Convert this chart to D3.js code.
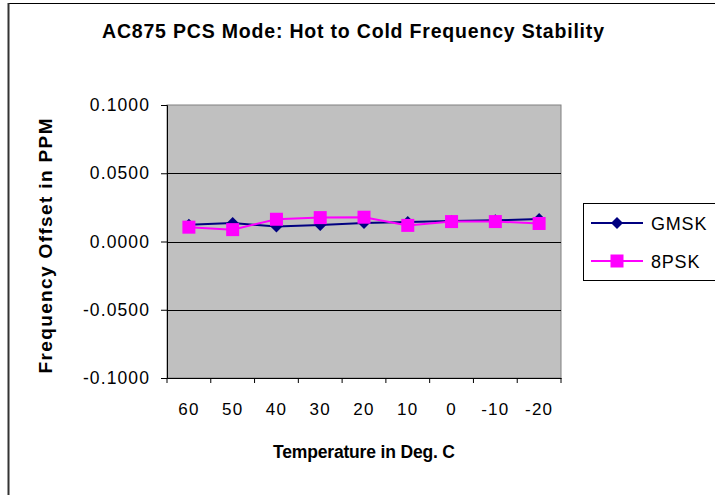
<!DOCTYPE html>
<html><head><meta charset="utf-8">
<script src="https://cdn.jsdelivr.net/npm/d3@7"></script>
<style>body{margin:0;background:#fff}svg{display:block;font-family:"Liberation Sans",Arial,sans-serif}</style>
</head><body><svg id="c" width="715" height="495"></svg>
<script>
const categories = ["60","50","40","30","20","10","0","-10","-20"];
const gmsk = [0.0123, 0.0135, 0.0110, 0.0120, 0.0135, 0.0142, 0.0150, 0.0155, 0.0165];
const psk8 = [0.0105, 0.0087, 0.0163, 0.0175, 0.0178, 0.0118, 0.0146, 0.0146, 0.0132];
const yTicks = [-0.1, -0.05, 0, 0.05, 0.1];
const seriesNames = ["GMSK", "8PSK"];

const svg = d3.select("#c");
const L = 167, R = 561, T = 105, B = 378;
const x = d3.scaleBand().domain(categories).range([L, R]);
const y = d3.scaleLinear().domain([-0.1, 0.1]).range([B, T]);
const fmt = d3.formatLocale({decimal: ".", thousands: ",", grouping: [3], currency: ["$", ""], minus: "-"}).format(".4f");

// outer border
svg.append("rect").attr("x", 8.5).attr("y", 3.5).attr("width", 720).attr("height", 520)
  .attr("fill", "#fff").attr("stroke", "#000").attr("stroke-width", 1);
svg.append("line").attr("x1", 8.5).attr("x2", 8.5).attr("y1", 3).attr("y2", 495).attr("stroke", "#333").attr("stroke-width", 2);

// plot area
svg.append("rect").attr("x", L).attr("y", T).attr("width", R - L).attr("height", B - T)
  .attr("fill", "#C0C0C0").attr("stroke", "#808080").attr("stroke-width", 1);

// gridlines
svg.append("g").selectAll("line").data(yTicks.filter(d => d > -0.1 && d < 0.1)).join("line")
  .attr("x1", L).attr("x2", R).attr("y1", d => Math.round(y(d)) + 0.5).attr("y2", d => Math.round(y(d)) + 0.5)
  .attr("stroke", "#000").attr("stroke-width", 1);

// y axis
const ya = svg.append("g").attr("transform", `translate(${L},0)`)
  .call(d3.axisLeft(y).tickValues(yTicks).tickFormat(fmt).tickSize(6).tickPadding(11));
ya.select(".domain").attr("stroke", "#000");
ya.selectAll("text").attr("font-size", 17.5).attr("fill", "#000").attr("letter-spacing", 1.1)
  .attr("font-family", "Liberation Sans, Arial, sans-serif");

// x axis
const xa = svg.append("g").attr("transform", `translate(0,${B})`)
  .call(d3.axisBottom(x).tickSize(5).tickPadding(20).tickSizeOuter(0));
xa.selectAll(".tick line").remove();
xa.select(".domain").attr("stroke", "#000");
const bandEdges = categories.map((c, i) => L + i * x.step()).concat([R]);
xa.selectAll("line.bt").data(bandEdges).join("line").attr("class", "bt")
  .attr("x1", d => d).attr("x2", d => d).attr("y1", 0).attr("y2", 5).attr("stroke", "#000");
xa.selectAll("text").attr("font-size", 17).attr("fill", "#000").attr("letter-spacing", 1.2)
  .attr("font-family", "Liberation Sans, Arial, sans-serif");

// lines & markers
const cx = c => x(c) + x.bandwidth() / 2;
const line = d3.line().x((d, i) => cx(categories[i])).y(d => y(d));
svg.append("path").datum(gmsk).attr("d", line).attr("fill", "none").attr("stroke", "#000080").attr("stroke-width", 2);
svg.append("g").selectAll("path").data(gmsk).join("path")
  .attr("d", "M0,-6L6,0L0,6L-6,0Z").attr("fill", "#000080")
  .attr("transform", (d, i) => `translate(${cx(categories[i])},${y(d)})`);
svg.append("path").datum(psk8).attr("d", line).attr("fill", "none").attr("stroke", "#FF00FF").attr("stroke-width", 2);
svg.append("g").selectAll("rect").data(psk8).join("rect")
  .attr("x", (d, i) => cx(categories[i]) - 6.5).attr("y", d => y(d) - 6.5)
  .attr("width", 13).attr("height", 13).attr("fill", "#FF00FF");

// titles
svg.append("text").attr("x", 353).attr("y", 38).attr("text-anchor", "middle")
  .attr("font-weight", "bold").attr("font-size", 19.5).attr("textLength", 502).attr("lengthAdjust", "spacing")
  .text("AC875 PCS Mode: Hot to Cold Frequency Stability");
svg.append("text").attr("x", 364).attr("y", 458).attr("text-anchor", "middle")
  .attr("font-weight", "bold").attr("font-size", 17.5).attr("textLength", 182).attr("lengthAdjust", "spacing")
  .text("Temperature in Deg. C");
svg.append("text").attr("transform", "translate(52,246) rotate(-90)").attr("text-anchor", "middle")
  .attr("font-weight", "bold").attr("font-size", 19).attr("textLength", 255).attr("lengthAdjust", "spacing")
  .text("Frequency Offset in PPM");

// legend
const lg = svg.append("g");
lg.append("rect").attr("x", 583.5).attr("y", 203.5).attr("width", 200).attr("height", 77)
  .attr("fill", "#fff").attr("stroke", "#000");
const colors = ["#000080", "#FF00FF"];
const rowsY = [223, 261];
seriesNames.forEach((n, i) => {
  lg.append("line").attr("x1", 591).attr("x2", 643).attr("y1", rowsY[i]).attr("y2", rowsY[i])
    .attr("stroke", colors[i]).attr("stroke-width", 2);
  if (i === 0) lg.append("path").attr("d", "M0,-6L6,0L0,6L-6,0Z").attr("fill", colors[i])
    .attr("transform", `translate(617,${rowsY[i]})`);
  else lg.append("rect").attr("x", 617 - 6.5).attr("y", rowsY[i] - 6.5).attr("width", 13).attr("height", 13).attr("fill", colors[i]);
  lg.append("text").attr("x", 651).attr("y", rowsY[i] + 6.5).attr("font-size", 18).attr("letter-spacing", 0.8).text(n);
});
</script></body></html>
